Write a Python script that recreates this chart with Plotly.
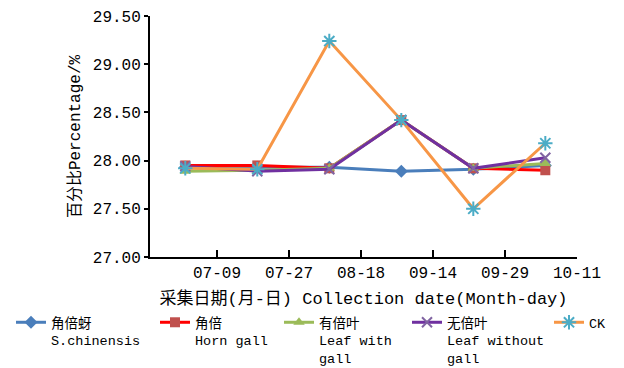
import plotly.graph_objects as go

dates = ["07-09", "07-27", "08-18", "09-14", "09-29", "10-11"]
names = ["角倍蚜<br>S.chinensis", "角倍<br>Horn gall", "有倍叶<br>Leaf with<br>gall",
         "无倍叶<br>Leaf without<br>gall", "CK"]
s_chinensis = [27.93, 27.93, 27.93, 27.89, 27.91, 27.95]
horn_gall = [27.95, 27.95, 27.92, 28.42, 27.92, 27.90]
leaf_with_gall = [27.89, 27.90, 27.92, 28.42, 27.92, 27.97]
leaf_without_gall = [27.94, 27.89, 27.91, 28.42, 27.92, 28.03]
ck = [27.92, 27.91, 29.24, 28.42, 27.50, 28.18]

tick_pos = [1, 2, 3, 4, 5, 6]
point_offset = 0.56
xs = [i + point_offset for i in range(len(dates))]

FONT = "Liberation Mono, Noto Sans CJK SC, monospace"

styles = [
    dict(line=dict(color="#4A7EBB", width=3), marker=dict(symbol="diamond", size=10, color="#4A7EBB")),
    dict(line=dict(color="#FF0000", width=3), marker=dict(symbol="square", size=10, color="#C0504D")),
    dict(line=dict(color="#9BBB59", width=3), marker=dict(symbol="triangle-up", size=10, color="#9BBB59")),
    dict(line=dict(color="#7030A0", width=3), marker=dict(symbol="x-thin-open", size=10, color="#8064A2",
                                                          line=dict(color="#8064A2", width=2))),
    dict(line=dict(color="#F79646", width=3), marker=dict(symbol="asterisk-open", size=12, color="#4BACC6",
                                                          line=dict(color="#4BACC6", width=2))),
]

# page body margin offsets the figure by 8px; geometry below in screen pixels
OFF = 8
W, H = 624 - OFF, 368 - OFF
PL, PR, PT, PB = 150 - OFF, 577 - OFF, 16 - OFF, 257 - OFF
legend_px = [p - OFF for p in [11, 155, 279, 407, 549]]
legend_top = 307 - OFF
legend_ids = ["legend", "legend2", "legend3", "legend4", "legend5"]

fig = go.Figure()
for name, vals, st, lid in zip(names, [s_chinensis, horn_gall, leaf_with_gall, leaf_without_gall, ck],
                               styles, legend_ids):
    fig.add_trace(go.Scatter(x=xs, y=vals, mode="lines+markers", name=name, legend=lid, **st))

layout_legends = {}
for lid, px in zip(legend_ids, legend_px):
    layout_legends[lid] = dict(
        x=(px - PL) / (PR - PL), y=(PB - legend_top) / (PB - PT), xanchor="left", yanchor="top",
        font=dict(size=13.5, family=FONT), valign="top", bgcolor="rgba(0,0,0,0)",
    )

fig.update_layout(
    width=W, height=H,
    margin=dict(l=PL, r=W - PR, t=PT, b=H - PB, autoexpand=False),
    paper_bgcolor="white", plot_bgcolor="white",
    font=dict(family=FONT, size=16, color="black"),
    showlegend=True,
    xaxis=dict(range=[0.07, 6], tickvals=tick_pos, ticktext=dates, showgrid=False, zeroline=False,
               showline=True, linecolor="black", linewidth=2, ticks="inside", ticklen=7,
               tickcolor="black", tickwidth=2,
               title=dict(text="采集日期(月-日) Collection date(Month-day)", standoff=10,
                          font=dict(size=17))),
    yaxis=dict(range=[27, 29.5], tickvals=[27, 27.5, 28, 28.5, 29, 29.5],
               ticktext=["27.00", "27.50", "28.00", "28.50", "29.00", "29.50"],
               showgrid=False, zeroline=False, showline=True, linecolor="black", linewidth=2,
               ticks="outside", ticklen=4, tickcolor="black", tickwidth=2,
               title=dict(text="百分比Percentage/%", standoff=8, font=dict(size=16))),
    **layout_legends,
)

fig.write_html("out.html")
